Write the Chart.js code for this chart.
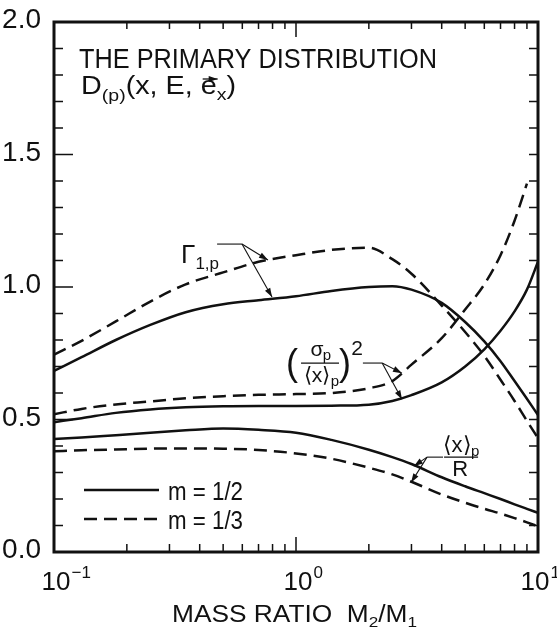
<!DOCTYPE html>
<html>
<head>
<meta charset="utf-8">
<style>
  html, body { margin: 0; padding: 0; background: #fff; }
  canvas { display: block; }
</style>
<script src="https://cdn.jsdelivr.net/npm/chart.js@4.4.0/dist/chart.umd.min.js"></script>
</head>
<body>
<canvas id="distChart" width="557" height="631"></canvas>
<script>
// mass ratio M2/M1 where the curves were sampled
const massRatio = [0.1, 0.13, 0.18, 0.25, 0.35, 0.5, 0.7, 1, 1.4, 2, 2.5, 3, 4, 5, 6, 7, 8, 9, 10];

// Gamma_1,p
const gammaHalf  = [0.683, 0.735, 0.80, 0.857, 0.905, 0.935, 0.95, 0.965, 0.985, 1.0, 1.003, 0.99, 0.94, 0.868, 0.795, 0.72, 0.645, 0.578, 0.517];
const gammaThird = [0.745, 0.797, 0.87, 0.945, 1.01, 1.055, 1.095, 1.12, 1.14, 1.148, 1.105, 1.05, 0.93, 0.83, 0.74, 0.65, 0.57, 0.495, 0.43];
// (sigma_p / <x>_p)^2
const sigmaHalf  = [0.49, 0.505, 0.525, 0.538, 0.546, 0.55, 0.551, 0.551, 0.552, 0.556, 0.57, 0.592, 0.64, 0.70, 0.765, 0.835, 0.908, 0.99, 1.095];
const sigmaThird = [0.52, 0.54, 0.557, 0.568, 0.58, 0.588, 0.593, 0.596, 0.60, 0.618, 0.645, 0.707, 0.807, 0.915, 1.01, 1.12, 1.25, 1.39, null];
// <x>_p / R
const meanHalf  = [0.426, 0.432, 0.441, 0.45, 0.459, 0.466, 0.461, 0.45, 0.423, 0.386, 0.358, 0.332, 0.282, 0.248, 0.222, 0.20, 0.18, 0.163, 0.148];
const meanThird = [0.38, 0.384, 0.387, 0.39, 0.391, 0.39, 0.385, 0.372, 0.352, 0.318, 0.293, 0.265, 0.217, 0.186, 0.163, 0.145, 0.128, 0.112, 0.097];

// axis labels
const yTicks = [0, 0.5, 1.0, 1.5, 2.0];
const xDecades = [0.1, 1, 10];
const xExponents = ['\u22121', '0', '1'];
const legendLabels = ['m = 1/2', 'm = 1/3'];

const FONT = '"Liberation Sans", Arial, sans-serif';
const INK = '#111';

function toPoints(arr) {
    return massRatio.map((x, i) => ({ x: x, y: arr[i] })).filter(p => p.y !== null);
}

function line(arr, dashed) {
    return {
        data: toPoints(arr),
        borderColor: INK,
        borderWidth: 2.5,
        borderDash: dashed ? [13, 7] : [],
        pointRadius: 0,
        fill: false,
        cubicInterpolationMode: 'monotone'
    };
}

// draw a run of text pieces (font size, vertical offset) left to right
function measureRun(ctx, parts) {
    let w = 0;
    parts.forEach(p => {
        ctx.font = p.size + 'px ' + FONT;
        w += ctx.measureText(p.t).width + (p.gap || 0);
    });
    return w;
}

function drawRun(ctx, x, y, parts, width) {
    const natural = measureRun(ctx, parts);
    const k = width ? width / natural : 1;
    ctx.save();
    ctx.translate(x, y);
    ctx.scale(k, 1);
    let cx = 0;
    const spots = [];
    parts.forEach(p => {
        ctx.font = p.size + 'px ' + FONT;
        ctx.textAlign = 'left';
        ctx.textBaseline = 'alphabetic';
        ctx.fillText(p.t, cx, p.dy || 0);
        const w = ctx.measureText(p.t).width;
        spots.push({ x: x + cx * k, w: w * k });
        cx += w + (p.gap || 0);
    });
    ctx.restore();
    return spots;
}

function arrow(ctx, x1, y1, x2, y2) {
    ctx.beginPath();
    ctx.moveTo(x1, y1);
    ctx.lineTo(x2, y2);
    ctx.stroke();
    const a = Math.atan2(y2 - y1, x2 - x1);
    const len = 9, half = 3;
    ctx.beginPath();
    ctx.moveTo(x2, y2);
    ctx.lineTo(x2 - len * Math.cos(a) + half * Math.sin(a), y2 - len * Math.sin(a) - half * Math.cos(a));
    ctx.lineTo(x2 - len * Math.cos(a) - half * Math.sin(a), y2 - len * Math.sin(a) + half * Math.cos(a));
    ctx.closePath();
    ctx.fill();
}

// labels with leader lines, in data coordinates
const notes = {
    gamma: { label: [0.335, 1.09], knee: [0.472, 0.598, 1.162], tips: [[0.766, 1.102], [0.796, 0.962]] },
    sigma: { label: [1.257, 0.713], knee: [1.89, 2.27, 0.713], tips: [[2.74, 0.675], [2.74, 0.576]] },
    mean:  { label: [4.81, 0.358], knee: [3.48, 4.05, 0.358], tips: [[3.07, 0.324], [2.99, 0.262]] }
};

const framePlugin = {
    id: 'frame',
    afterDatasetsDraw(chart) {
        const ctx = chart.ctx;
        const xs = chart.scales.x, ys = chart.scales.y;
        const a = chart.chartArea;
        const px = v => xs.getPixelForValue(v);
        const py = v => ys.getPixelForValue(v);

        ctx.save();
        ctx.strokeStyle = INK;
        ctx.fillStyle = INK;

        // inward ticks
        ctx.lineWidth = 1.5;
        ctx.beginPath();
        for (let i = 1; i < 20; i++) {
            const y = py(i / 10);
            const long = i % 5 === 0;
            ctx.moveTo(a.left, y); ctx.lineTo(a.left + (long ? 19 : 9), y);
            ctx.moveTo(a.right, y); ctx.lineTo(a.right - 9, y);
        }
        [0.1, 1].forEach(d => {
            for (let k = 2; k <= 9; k++) {
                const x = px(k * d);
                ctx.moveTo(x, a.bottom); ctx.lineTo(x, a.bottom - 8);
                ctx.moveTo(x, a.top); ctx.lineTo(x, a.top + 7);
            }
        });
        ctx.moveTo(px(1), a.bottom); ctx.lineTo(px(1), a.bottom - 15);
        ctx.moveTo(px(1), a.top); ctx.lineTo(px(1), a.top + 15);
        ctx.stroke();

        // frame
        ctx.lineWidth = 3;
        ctx.strokeRect(a.left, a.top, a.right - a.left, a.bottom - a.top);

        // y tick labels
        ctx.font = '28px ' + FONT;
        ctx.textAlign = 'right';
        ctx.textBaseline = 'alphabetic';
        yTicks.forEach(v => ctx.fillText(v.toFixed(1), 41, py(v) + 6));

        // x tick labels 10^n
        xDecades.forEach((d, i) => {
            ctx.font = '26px ' + FONT;
            const w = ctx.measureText('10').width;
            const x0 = px(d) - w / 2 + (i === 2 ? -3 : 2);
            ctx.textAlign = 'left';
            ctx.fillText('10', x0, 590);
            ctx.font = '17px ' + FONT;
            ctx.fillText(xExponents[i], x0 + w + 1, 578);
        });

        // x axis title
        drawRun(ctx, 172, 622, [
            { t: 'MASS RATIO  M', size: 23 },
            { t: '2', size: 15, dy: 5 },
            { t: '/M', size: 23 },
            { t: '1', size: 15, dy: 5 }
        ], 245);

        // heading
        drawRun(ctx, 79, 68, [{ t: 'THE PRIMARY DISTRIBUTION', size: 27 }], 358);
        const d = drawRun(ctx, 81, 94, [
            { t: 'D', size: 25 },
            { t: '(p)', size: 17, dy: 7 },
            { t: '(x, E, ', size: 25 },
            { t: 'e', size: 25 },
            { t: 'x', size: 17, dy: 6 },
            { t: ')', size: 25, gap: 0 }
        ], 155);
        // vector arrow over e
        const e = d[3];
        ctx.lineWidth = 1.3;
        arrow(ctx, e.x + 2, 79, e.x + e.w + 1, 79);

        // Gamma_1,p label
        const g = notes.gamma;
        drawRun(ctx, px(g.label[0]), py(g.label[1]), [
            { t: '\u0393', size: 26 },
            { t: '1,p', size: 17, dy: 6 }
        ]);

        // (sigma_p / <x>_p)^2 label
        const s = notes.sigma;
        const sx = px(s.label[0]), sy = py(s.label[1]);
        ctx.font = '36px ' + FONT;
        ctx.textAlign = 'center';
        ctx.fillText('(', sx - 28, sy + 12);
        ctx.fillText(')', sx + 25, sy + 12);
        ctx.font = '21px ' + FONT;
        ctx.fillText('\u03C3', sx - 3, sy - 7);
        ctx.font = '15px ' + FONT;
        ctx.fillText('p', sx + 7, sy - 3);
        ctx.font = '21px ' + FONT;
        ctx.fillText('\u27E8x\u27E9', sx - 3, sy + 19);
        ctx.font = '15px ' + FONT;
        ctx.fillText('p', sx + 15, sy + 23);
        ctx.font = '21px ' + FONT;
        ctx.fillText('2', sx + 37, sy - 8);
        ctx.lineWidth = 1.3;
        ctx.beginPath();
        ctx.moveTo(sx - 19, sy); ctx.lineTo(sx + 19, sy);
        ctx.stroke();

        // <x>_p / R label
        const m = notes.mean;
        const mx = px(m.label[0]), my = py(m.label[1]);
        ctx.font = '22px ' + FONT;
        ctx.fillText('\u27E8x\u27E9', mx - 4, my - 5);
        ctx.font = '15px ' + FONT;
        ctx.fillText('p', mx + 14, my - 1);
        ctx.font = '22px ' + FONT;
        ctx.fillText('R', mx - 1, my + 19);
        ctx.beginPath();
        ctx.moveTo(mx - 17, my); ctx.lineTo(mx + 17, my);
        ctx.stroke();

        // leader lines with arrow heads
        ctx.lineWidth = 1.1;
        [g, s, m].forEach(n => {
            const kx0 = px(n.knee[0]), kx1 = px(n.knee[1]), ky = py(n.knee[2]);
            const start = n === m ? kx1 : kx0;
            const end = n === m ? kx0 : kx1;
            ctx.beginPath();
            ctx.moveTo(start, ky); ctx.lineTo(end, ky);
            ctx.stroke();
            n.tips.forEach(t => arrow(ctx, end, ky, px(t[0]), py(t[1])));
        });

        // legend
        ctx.lineWidth = 2.5;
        ctx.beginPath();
        ctx.moveTo(84, 490); ctx.lineTo(159, 490);
        ctx.stroke();
        ctx.setLineDash([13, 7]);
        ctx.beginPath();
        ctx.moveTo(84, 519); ctx.lineTo(159, 519);
        ctx.stroke();
        ctx.setLineDash([]);
        drawRun(ctx, 168, 500, [{ t: legendLabels[0], size: 25 }], 75);
        drawRun(ctx, 168, 529, [{ t: legendLabels[1], size: 25 }], 75);

        ctx.restore();
    }
};

new Chart(document.getElementById('distChart'), {
    type: 'line',
    data: {
        datasets: [
            line(gammaHalf, false),
            line(gammaThird, true),
            line(sigmaHalf, false),
            line(sigmaThird, true),
            line(meanHalf, false),
            line(meanThird, true)
        ]
    },
    options: {
        responsive: false,
        animation: false,
        devicePixelRatio: 1,
        layout: { padding: { left: 54, right: 19, top: 22, bottom: 79 } },
        plugins: {
            legend: { display: false },
            tooltip: { enabled: false }
        },
        scales: {
            x: { type: 'logarithmic', min: 0.1, max: 10, display: false },
            y: { type: 'linear', min: 0, max: 2, display: false }
        }
    },
    plugins: [framePlugin]
});
</script>
</body>
</html>
